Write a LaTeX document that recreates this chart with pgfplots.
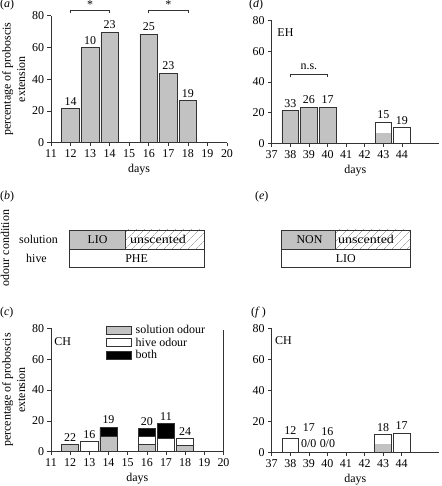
\documentclass[border=0pt]{standalone}
\usepackage{fontspec}
\setmainfont{Liberation Serif}
\usepackage{pgfplots}
\pgfplotsset{compat=1.18}
\usetikzlibrary{patterns.meta}
\definecolor{bargray}{gray}{0.76}
\definecolor{edge}{gray}{0.2}
\newcommand{\fs}{\fontsize{12}{14.4}\selectfont}
\pgfplotsset{
  panel/.style={
    scale only axis, anchor=south west,
    axis x line=bottom, axis y line=left,
    axis line style={-, edge, line width=0.6pt},
    tick align=outside, major tick length=3.5bp,
    tick style={edge, line width=0.6pt},
    ymin=0, ymax=80, ytick={0,20,40,60,80},
    enlargelimits=false,
    /pgf/number format/assume math mode=true,
    tick label style={font=\fs},
    label style={font=\fs},
    xlabel=days,
    clip=false,
  },
  ylab/.style={ylabel={percentage of proboscis\\extension}, ylabel style={align=center}},
  B/.style={ybar, bar width=0.9, bar shift=0pt, draw=edge, line width=0.7pt},
  lbl/.style={nodes near coords, point meta=explicit symbolic,
    nodes near coords style={font=\fs, anchor=south, inner sep=3bp, text=black}},
}
\tikzset{lab/.style={font=\fs, inner sep=0pt}}
\begin{document}
\begin{tikzpicture}
\useasboundingbox (0,0) rectangle (442bp,486bp);

% ---------------- (a)
\begin{axis}[panel, ylab, at={(51bp,343.3bp)}, width=176bp, height=127bp,
  xmin=11, xmax=20, xtick={11,...,20}]
\addplot[B, lbl, fill=bargray] coordinates {(12,21.6)[14] (13,59.8)[10] (14,69.5)[23] (16,68.2)[25] (17,43.7)[23] (18,26.5)[19]};
\draw[edge, line width=0.6pt] (axis cs:12,81.5) -- (axis cs:12,83.6) -- (axis cs:14,83.6) -- (axis cs:14,81.5);
\draw[edge, line width=0.6pt] (axis cs:16,81.5) -- (axis cs:16,83.6) -- (axis cs:18,83.6) -- (axis cs:18,81.5);
\node[lab, anchor=base, yshift=1.5bp] at (axis cs:13,83.6) {*};
\node[lab, anchor=base, yshift=1.5bp] at (axis cs:17,83.6) {*};
\end{axis}

% ---------------- (d)
\begin{axis}[panel, at={(271.7bp,342.7bp)}, width=167.4bp, height=122.6bp,
  xmin=37, xmax=46, xtick={37,...,44}]
\addplot[B, lbl, fill=bargray] coordinates {(38,21.3)[33] (39,23.5)[26] (40,23.5)[17]};
\addplot[B, fill=bargray, draw=none] coordinates {(43,6.5)};
\addplot[B, lbl, fill=none] coordinates {(43,13.7)[15] (44,10.2)[19]};
\draw[edge, line width=0.6pt] (axis cs:38,43) -- (axis cs:38,45.2) -- (axis cs:40,45.2) -- (axis cs:40,43);
\node[lab, anchor=base, yshift=5bp] at (axis cs:39,45.2) {n.s.};
\node[lab, anchor=west] at (axis cs:37.3,72.4) {EH};
\end{axis}

% ---------------- (c)
\begin{axis}[panel, ylab, at={(51bp,34.3bp)}, width=172.5bp, height=123.4bp,
  xmin=11, xmax=20, xtick={11,...,20},
  legend style={draw=none, fill=none, at={(axis description cs:0.315,1.04)}, anchor=north west,
    font=\fs, inner sep=0pt, row sep=-1.5pt, cells={anchor=west},
    /tikz/every odd column/.append style={column sep=2.5bp}},
  legend image code/.code={\draw (0bp,-4bp) rectangle (25bp,4bp);}]
\addlegendimage{fill=bargray, draw=edge, line width=0.7pt}
\addlegendimage{fill=white, draw=edge, line width=0.7pt}
\addlegendimage{fill=black, draw=edge, line width=0.7pt}
\legend{solution odour, hive odour, both}
\addplot[B, lbl, fill=white, forget plot] coordinates {(12,4.6)[22] (13,6.4)[16] (14,15.8)[19] (16,15.0)[20] (17,18.3)[11] (18,8.4)[24]};
\addplot[B, fill=black, forget plot] coordinates {(14,15.8) (16,15.0) (17,18.3)};
\addplot[B, fill=white, forget plot] coordinates {(13,6.4) (16,9.8) (17,8.8) (18,8.4)};
\addplot[B, fill=bargray, forget plot] coordinates {(12,4.6) (14,10.0) (16,4.9) (18,3.9)};
\draw[edge, line width=0.6pt] (axis cs:20,0) -- (axis cs:20,79);
\node[lab, anchor=west] at (axis cs:11.17,71.3) {CH};
\end{axis}

% ---------------- (f)
\begin{axis}[panel, at={(271.7bp,33.5bp)}, width=167.1bp, height=124bp,
  xmin=37, xmax=46, xtick={37,...,44}]
\addplot[B, fill=bargray, draw=none] coordinates {(43,5.6)};
\addplot[B, lbl, fill=none] coordinates {(38,9.2)[12] (43,11.6)[18] (44,12.4)[17]};
\node[lab, anchor=south, yshift=4.5bp] at (axis cs:39,0) {0/0};
\node[lab, anchor=south, yshift=4.5bp] at (axis cs:40,0) {0/0};
\node[lab, anchor=south, yshift=21bp] at (axis cs:39,0) {17};
\node[lab, anchor=south, yshift=17bp] at (axis cs:40,0) {16};
\node[lab, anchor=west] at (axis cs:37.18,72) {CH};
\end{axis}

% ---------------- (b) and (e) schematic
\begin{scope}[line width=0.6pt]
\draw[edge, fill=bargray] (69.3bp,236.7bp) rectangle (125.7bp,256bp);
\draw[edge, pattern={Lines[angle=45,distance=6bp,line width=0.4pt]}, pattern color=gray] (125.7bp,236.7bp) rectangle (204bp,256bp);
\draw[edge] (69.3bp,218.7bp) rectangle (204bp,236.7bp);
\node[lab] at (97.5bp,246.3bp) {LIO};
\node[lab, xscale=1.17] at (158bp,246.3bp) {unscented};
\node[lab] at (136.6bp,227.7bp) {PHE};
\node[lab] at (38.5bp,246.3bp) {solution};
\node[lab] at (36.5bp,227.7bp) {hive};
\node[lab, rotate=90] at (5bp,238bp) {odour condition};

\draw[edge, fill=bargray] (281.7bp,236.7bp) rectangle (335bp,256bp);
\draw[edge, pattern={Lines[angle=45,distance=6bp,line width=0.4pt]}, pattern color=gray] (335bp,236.7bp) rectangle (410bp,256bp);
\draw[edge] (281.7bp,218.7bp) rectangle (410bp,236.7bp);
\node[lab] at (309.5bp,246.3bp) {NON};
\node[lab, xscale=1.17] at (366bp,246.3bp) {unscented};
\node[lab] at (345.8bp,227.7bp) {LIO};
\end{scope}

% ---------------- panel letters
\node[lab, anchor=west] at (0bp,481bp) {(\textit{a})};
\node[lab, anchor=west] at (249bp,481bp) {(\textit{d})};
\node[lab, anchor=west] at (0bp,289bp) {(\textit{b})};
\node[lab, anchor=west] at (255bp,289bp) {(\textit{e})};
\node[lab, anchor=west] at (0bp,173bp) {(\textit{c})};
\node[lab, anchor=west] at (251bp,173bp) {(\textit{f}\,)};
\end{tikzpicture}
\end{document}
